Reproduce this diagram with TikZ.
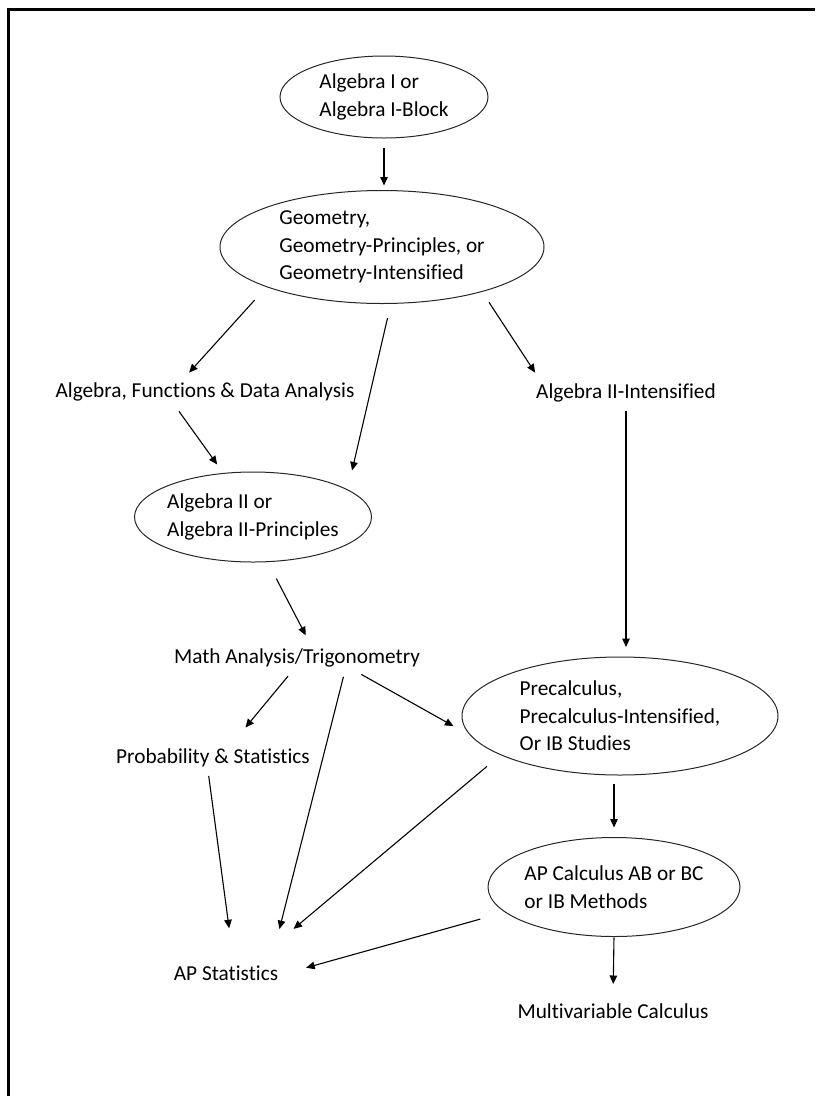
\documentclass[tikz,border=0pt]{standalone}
\usepackage{fontspec}
\setmainfont[Ligatures=NoCommon]{Carlito}
\usetikzlibrary{shapes.geometric,arrows.meta}

\begin{document}
\begin{tikzpicture}[
                x = 1pt, y = -1pt,
                > = {Triangle[length=8.5pt,width=7.5pt]},
                line width = 1.1pt
                ]

                \tikzstyle{course}=[
                        draw = black!85,
                        line width = 1pt,
                        ellipse,
                        align = left,
                        inner xsep = -20pt,
                        inner ysep = 0pt,
                        outer sep = 0pt,
                        font = \fontsize{21.3}{27.5}\selectfont
                ]
                \tikzstyle{plain}=[
                        inner sep = 2pt,
                        outer sep = 0pt,
                        text height = 15pt,
                        text depth = 5pt,
                        font = \fontsize{21.3}{27.5}\selectfont
                ]

                \useasboundingbox (0,0) rectangle (815,1096);
                \draw[line width = 3pt] (8.5,1096) -- (8.5,9.3) -- (815,9.3);

                \node[course] (1) at (384,97) [minimum width=208pt, minimum height=82pt] {Algebra I or\\Algebra I-Block};
                \node[course] (2) at (382,247) [minimum width=324pt, minimum height=113pt] {Geometry,\\Geometry-Principles, or\\Geometry-Intensified};
                \node[plain] (3) at (205,392) {Algebra, Functions \& Data Analysis};
                \node[plain] (4) at (626,393) {Algebra II-Intensified};
                \node[course] (5) at (253,517) [minimum width=237pt, minimum height=90pt] {Algebra II or\\Algebra II-Principles};
                \node[plain] (6) at (297,658) {Math Analysis/Trigonometry};
                \node[plain] (7) at (213,758) {Probability \& Statistics};
                \node[course] (8) at (620,716) [minimum width=316pt, minimum height=118pt] {Precalculus,\\Precalculus-Intensified,\\Or IB Studies};
                \node[course] (9) at (614,887) [minimum width=252pt, minimum height=99pt] {AP Calculus AB or BC\\or IB Methods};
                \node[plain] (10) at (226,975) {AP Statistics};
                \node[plain] (11) at (613,1013) {Multivariable Calculus};

                \draw[->, shorten <=10pt, shorten >=5pt] (1.south) -- (1.south |- 2.north);
                \draw[->, shorten <=18pt, shorten >=10pt] (2.199) -- (3.152);
                \draw[->, shorten <=15pt, shorten >=20pt] (2.279) -- (5.16);
                \draw[->, shorten <=13pt, shorten >=10pt] (2.336) -- (4.172);
                \draw[->, shorten <=9pt, shorten >=11pt] (3.201) -- (5.124);
                \draw[->, shorten <=19pt, shorten >=12pt] (5.288) -- (6.40);
                \draw[->, shorten <=6pt, shorten >=10pt] (4.south) -- (4.south |- 8.north);
                \draw[->, shorten <=8pt, shorten >=24pt] (6.252) -- (7.35);
                \draw[->, shorten <=7pt, shorten >=35pt] (6.346) -- (10.15);
                \draw[->, shorten <=9pt, shorten >=68pt] (6.348) -- (8.202);
                \draw[->, shorten <=6pt, shorten >=35pt] (7.247) -- (10.57);
                \draw[->, shorten <=18pt, shorten >=53pt] (8.198) -- (10.24);
                \draw[->, shorten <=9pt, shorten >=10pt] (8.south -| 9.north) -- (9.north);
                \draw[->, shorten <=26pt, shorten >=27pt] (9.193) -- (10.east);
                \draw[->, shorten <=1pt, shorten >=17pt] (9.south) -- (11.north);
\end{tikzpicture}
\end{document}
